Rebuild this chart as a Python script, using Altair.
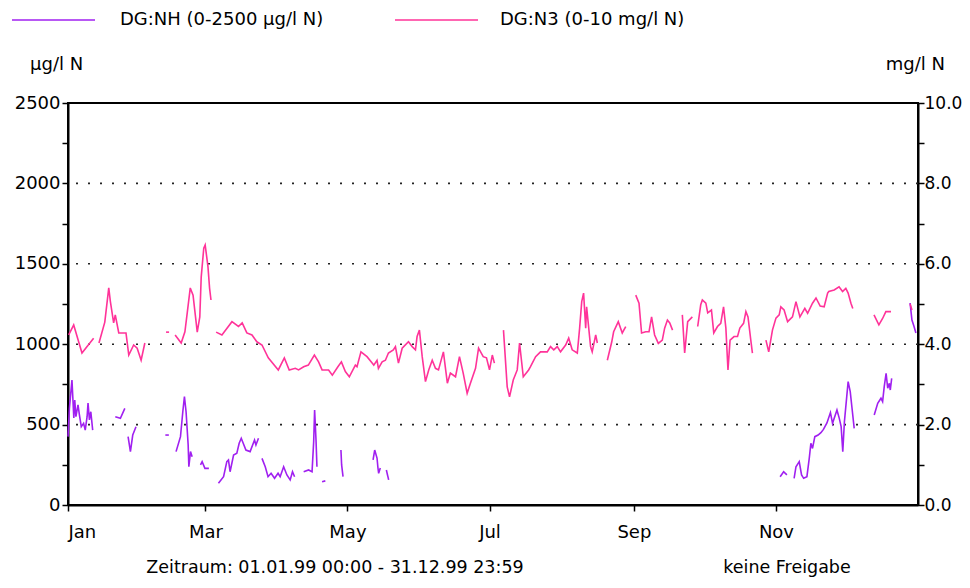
import altair as alt
import pandas as pd

# ---- data (day of year 1999, value) ; None = gap ----
nh_day = [0.0, 0.6, 1.7, 2.5, 2.9, 3.4, 4.3, 4.9, 5.7, 6.7, 7.4, 8.2, 8.6, 9.2, 9.8, 10.6, None,
          20.3, 22.5, 24.4, None,
          25.8, 26.8, 27.8, 29.2, None,
          41.8, 43.3, None,
          46.4, 48.3, 49.3, 50.0, 50.7, 51.6, 51.9, 52.6, 53.3, None,
          56.9, 57.6, 58.8, 60.5, None,
          64.6, 66.8, 68.2, 68.9, 69.6, 71.1, 72.5, 73.5, 74.4, 76.4, 78.2, 80.1, 80.7, 81.8, None,
          83.3, 84.7, 85.9, 87.2, 88.7, 90.2, 91.1, 92.6, 94.0, 95.4, 96.4, 97.3, None,
          101.2, 103.3, 104.8, 105.5, 105.9, 106.5, 106.9, None,
          109.1, 110.5, None,
          117.2, 117.5, 118.1, None,
          131.0, 131.7, 132.7, 133.1, 133.4, 134.1, None,
          136.7, 137.7, None,
          305.8, 307.3, 308.7, None,
          311.8, 312.6, 314.0, 315.0, 315.9, 317.3, 318.3, 319.0, 319.7, 320.7, 322.1, 323.3, 324.4,
          325.9, 327.4, 328.3, 330.2, 331.2, 332.0, 332.7, 333.4, 334.4, 335.0, 335.9, 336.6, 337.6, None,
          346.2, 347.7, 349.1, 349.8, 350.5, 351.3, 352.0, 352.7, 353.1, 353.7, None,
          361.6, 362.4, 363.3, 364.1]
nh_val = [425, 601, 777, 541, 653, 549, 622, 560, 487, 508, 466, 549, 634, 529, 580, 466, None,
          549, 539, 601, None,
          425, 332, 435, 487, None,
          435, 435, None,
          332, 425, 580, 674, 580, 373, 238, 332, 300, None,
          249, 270, 228, 228, None,
          135, 176, 270, 280, 207, 311, 322, 384, 415, 342, 332, 404, 373, 415, None,
          290, 238, 176, 197, 166, 197, 176, 238, 187, 156, 207, 176, None,
          207, 218, 207, 394, 591, 404, 238, None,
          145, 150, None,
          342, 249, 176, None,
          280, 342, 292, 230, 197, 230, None,
          218, 156, None,
          176, 207, 187, None,
          166, 238, 270, 187, 166, 176, 290, 384, 352, 425, 435, 450, 470,
          510, 575, 508, 591, 539, 487, 332, 518, 674, 767, 705, 611, 477, None,
          560, 632, 664, 643, 736, 819, 726, 757, 715, 788, None,
          1256, 1150, 1110, 1070]

n3_day = [0.3, 2.45, 6.0, 11.0, None,
          13.3, 15.8, 17.5, 18.2, 19.6, 20.3, 21.8, 24.9, 26.1, 28.2, 29.7, 31.4, 33.0, None,
          42.1, 43.4, None,
          46.0, 48.6, 50.2, 51.2, 52.5, 53.7, 55.5, 56.6, 57.2, 58.3, 58.9, 60.1, 60.8, 61.4, None,
          63.6, 66.1, 70.4, 73.2, 74.8, 76.8, 79.0, 81.1, 83.3, 86.0, 90.3, 92.9, 95.0, 97.6, 99.0,
          101.2, 103.2, 105.8, 107.6, 109.1, 111.9, 113.5, 115.9, 117.4, 119.1, 120.8, 123.4, 124.1,
          125.8, 128.4, 130.6, 131.3, 132.7, 133.3, 134.9, 136.3, 137.6, 139.7, 140.6, 141.9, 143.5,
          146.2, 147.8, 149.2, 149.9, 150.9, 152.1, 153.5, 154.9, 156.4, 157.8, 159.1, 161.2, 162.9,
          164.2, 166.4, 168.1, 169.7, 171.4, 172.8, 175.0, 176.3, 178.3, 179.7, 181.0, 182.2, 183.1, None,
          187.0, 188.6, 189.6, 191.2, 192.9, 193.9, 195.5, 197.8, 198.6, 200.8, 202.9, 205.8, 207.2,
          208.6, 210.1, 211.5, 213.7, 215.0, 216.5, 218.7, 219.7, 220.6, 221.4, 222.3, 222.7, 224.4,
          225.1, 226.6, 227.3, None,
          231.6, 233.5, 234.3, 236.3, 238.0, 239.5, None,
          243.8, 245.2, 246.3, 248.1, 249.5, 250.6, 251.9, 253.5, 255.2, 256.2, 257.4, 258.4, 259.6, None,
          263.8, 264.8, 266.1, 268.1, None,
          270.4, 271.7, 272.4, 273.9, 274.7, 276.3, 277.3, 278.9, 280.3, 281.5, 282.5, 283.4, 284.3,
          286.0, 287.5, 288.5, 290.1, 291.1, 292.0, 293.2, 293.9, None,
          299.7, 300.9, 302.5, 304.0, 305.4, 306.1, 307.5, 309.0, 311.1, 312.6, 314.3, 316.4, 317.6,
          319.7, 321.2, 323.0, 324.7, 326.2, 326.7, 329.0, 331.1, 332.6, 334.0, 335.0, 336.2, 337.0, None,
          346.1, 348.2, 349.8, 351.2, 353.4, None,
          361.6, 362.4]
n3_val = [4.23, 4.48, 3.78, 4.15, None,
          4.03, 4.55, 5.4, 5.06, 4.53, 4.73, 4.28, 4.28, 3.73, 3.98, 3.9, 3.6, 4.03, None,
          4.3, 4.3, None,
          4.23, 4.03, 4.31, 4.78, 5.4, 5.22, 4.3, 4.68, 5.67, 6.39, 6.47, 5.93, 5.39, 5.1, None,
          4.3, 4.23, 4.56, 4.44, 4.53, 4.28, 4.23, 4.06, 3.98, 3.66, 3.36, 3.66, 3.36, 3.4, 3.36,
          3.44, 3.48, 3.73, 3.56, 3.36, 3.36, 3.23, 3.44, 3.56, 3.32, 3.19, 3.48, 3.44,
          3.81, 3.69, 3.53, 3.48, 3.6, 3.4, 3.56, 3.6, 3.78, 3.86, 3.94, 3.53, 3.9,
          4.06, 3.94, 3.86, 4.19, 4.35, 3.69, 3.07, 3.36, 3.6, 3.4, 3.36, 3.81, 3.03,
          3.28, 3.19, 3.69, 3.28, 2.78, 3.03, 3.4, 3.9, 3.69, 3.66, 3.36, 3.73, 3.53, None,
          4.35, 2.94, 2.69, 3.11, 3.36, 4.03, 3.19, 3.36, 3.44, 3.69, 3.81, 3.81, 3.94,
          3.86, 3.94, 3.81, 3.98, 4.15, 3.86, 3.78, 4.4, 5.06, 5.27, 4.4, 4.93, 3.94,
          3.81, 4.23, 4.03, None,
          3.6, 4.06, 4.31, 4.56, 4.28, 4.44, None,
          5.22, 5.02, 4.28, 4.31, 4.31, 4.68, 4.23, 4.02, 4.1, 4.4, 4.6, 4.53, 4.35, None,
          4.73, 3.78, 4.56, 4.68, None,
          4.44, 4.98, 5.1, 5.02, 4.78, 4.85, 4.28, 4.44, 4.52, 4.93, 4.4, 3.36, 4.1,
          4.19, 4.19, 4.4, 4.52, 4.81, 4.68, 4.1, 3.78, None,
          4.1, 3.81, 4.35, 4.65, 4.73, 4.93, 4.85, 4.56, 4.68, 5.06, 4.68, 4.89, 4.77,
          5.02, 5.15, 4.95, 4.93, 5.27, 5.31, 5.35, 5.43, 5.31, 5.39, 5.27, 5.02, 4.89, None,
          4.73, 4.48, 4.64, 4.81, 4.81, None,
          5.0, 4.85]

month_days = [0, 59, 120, 181, 243, 304]
month_labels = ["Jan", "Mar", "May", "Jul", "Sep", "Nov"]
left_ticks = list(range(0, 2501, 250))
right_ticks = list(range(0, 11))
grid_vals = [500, 1000, 1500, 2000]

NH_COLOR = "#a020f0"
N3_COLOR = "#ff3399"
FONT = "DejaVu Sans"
FS = 18


def to_frame(days, vals):
    rows, seg = [], 0
    for d, v in zip(days, vals):
        if v is None:
            seg += 1
            continue
        rows.append({"day": d, "value": v, "seg": seg})
    return pd.DataFrame(rows)


nh_df = to_frame(nh_day, nh_val)
n3_df = to_frame(n3_day, n3_val)
grid_df = pd.DataFrame({"g": grid_vals})

label_expr = "[" + ",".join("'%s'" % m for m in month_labels) + "][indexof([" + \
    ",".join(str(d) for d in month_days) + "], datum.value)]"

x_enc = alt.X("day:Q", scale=alt.Scale(domain=[0, 365], nice=False, zero=False),
              axis=alt.Axis(values=month_days, labelExpr=label_expr, title="", grid=False,
                            tickSize=6, labelPadding=12, labelFontSize=FS, labelFont=FONT,
                            labelColor="black", domainColor="black", domainWidth=2,
                            tickColor="black", tickWidth=1.5))

left_scale = alt.Scale(domain=[0, 2500], nice=False, zero=True)
left_axis = alt.Axis(values=left_ticks, labelExpr="datum.value % 500 == 0 ? datum.label : ''",
                     title="", grid=False, tickSize=6, labelPadding=2, labelFontSize=FS,
                     labelFont=FONT, labelColor="black", domainColor="black", domainWidth=2,
                     tickColor="black", tickWidth=1.5, format="d")

right_scale = alt.Scale(domain=[0, 10], nice=False, zero=True)
right_axis = alt.Axis(values=right_ticks, labelExpr="datum.value % 2 == 0 ? datum.label : ''",
                      title="", grid=False, tickSize=6, labelPadding=0, labelFontSize=17,
                      labelFont=FONT, labelColor="black", domainColor="black", domainWidth=2,
                      tickColor="black", tickWidth=1.5, format=".1f", orient="right")

grid = alt.Chart(grid_df).mark_rule(color="#222222", strokeWidth=1.6, strokeDash=[2, 10]).encode(
    y=alt.Y("g:Q", scale=left_scale, axis=left_axis)
)

nh_line = alt.Chart(nh_df).mark_line(color=NH_COLOR, strokeWidth=1.6).encode(
    x=x_enc,
    y=alt.Y("value:Q", scale=left_scale, axis=left_axis),
    detail="seg:N",
)

n3_line = alt.Chart(n3_df).mark_line(color=N3_COLOR, strokeWidth=1.6).encode(
    x=x_enc,
    y=alt.Y("value:Q", scale=right_scale, axis=right_axis),
    detail="seg:N",
)

left = alt.layer(grid, nh_line)

one = pd.DataFrame({"k": [0]})


def txt(s, x, y, align="left", baseline="middle", size=FS):
    return alt.Chart(one).mark_text(text=s, align=align, baseline=baseline, font=FONT,
                                    fontSize=size, color="black").encode(
        x=alt.value(x), y=alt.value(y))


def leg_line(x1, x2, y, color, width=1.6):
    return alt.Chart(one).mark_rule(color=color, strokeWidth=width).encode(
        x=alt.value(x1), x2=alt.value(x2), y=alt.value(y))


annots = [
    leg_line(0, 850, 0, "black", 2),
    leg_line(-56, 27, -83, NH_COLOR),
    txt("DG:NH (0-2500 µg/l N)", 52, -83),
    leg_line(327, 410, -83, N3_COLOR),
    txt("DG:N3 (0-10 mg/l N)", 432, -83),
    txt("µg/l N", -38, -38),
    txt("mg/l N", 877, -38, align="right"),
    txt("Zeitraum: 01.01.99 00:00 - 31.12.99 23:59", 267, 465, align="center", size=17.5),
    txt("keine Freigabe", 719, 465, align="center", size=17.5),
]

chart = alt.layer(left, n3_line, *annots).resolve_scale(y="independent").properties(
    width=850, height=402,
    padding={"left": 60, "top": 95, "right": 44, "bottom": 75},
    autosize="none",
    background="white",
).configure_view(stroke="black", strokeWidth=2)

chart.save("out.html", embed_options={"renderer": "svg", "actions": False})
